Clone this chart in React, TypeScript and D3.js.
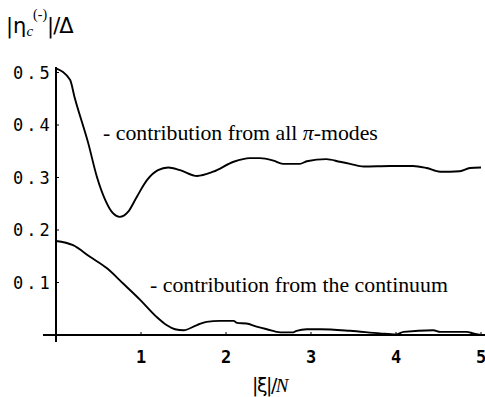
import React from "react";
import * as d3 from "d3";

// contribution from all pi-modes
const piX = [0, 0.165, 0.22, 0.38, 0.48, 0.58, 0.67, 0.75, 0.85, 0.95, 1.07, 1.2, 1.32, 1.46, 1.66, 1.85, 2.09, 2.28, 2.4, 2.56, 2.67, 2.87, 2.95, 3.18, 3.34, 3.46, 3.62, 3.93, 4.2, 4.36, 4.52, 4.75, 4.87, 5.0];
const piY = [0.508, 0.486, 0.452, 0.365, 0.302, 0.257, 0.232, 0.225, 0.235, 0.263, 0.295, 0.314, 0.319, 0.314, 0.303, 0.311, 0.33, 0.337, 0.337, 0.332, 0.326, 0.326, 0.331, 0.335, 0.33, 0.326, 0.321, 0.322, 0.322, 0.318, 0.311, 0.312, 0.318, 0.319];

// contribution from the continuum
const cX = [0, 0.2, 0.4, 0.6, 0.79, 0.99, 1.18, 1.3, 1.4, 1.5, 1.66, 1.77, 1.93, 2.09, 2.13, 2.24, 2.36, 2.48, 2.64, 2.79, 2.83, 2.95, 3.11, 3.46, 3.81, 4.0, 4.09, 4.44, 4.52, 4.83, 4.91, 5.0];
const cY = [0.179, 0.171, 0.149, 0.127, 0.098, 0.067, 0.035, 0.019, 0.011, 0.009, 0.019, 0.025, 0.027, 0.027, 0.023, 0.022, 0.016, 0.011, 0.005, 0.005, 0.008, 0.011, 0.011, 0.008, 0.003, 0.001, 0.006, 0.009, 0.006, 0.006, 0.003, 0.0];

const xTicks = [1, 2, 3, 4, 5];
const yTicks = [0.1, 0.2, 0.3, 0.4, 0.5];

const W = 485;
const H = 397;

export default function App() {
  const x = d3.scaleLinear().domain([0, 5]).range([56, 481]);
  const y = d3.scaleLinear().domain([0, 0.5]).range([335, 72.5]);

  const line = d3
    .line<[number, number]>()
    .x(d => x(d[0]))
    .y(d => y(d[1]))
    .curve(d3.curveMonotoneX);

  const piPts = piX.map((v, i) => [v, piY[i]] as [number, number]);
  const cPts = cX.map((v, i) => [v, cY[i]] as [number, number]);

  const mono = "'DejaVu Sans Mono', monospace";
  const serif = "'Liberation Serif', 'Times New Roman', serif";
  const sans = "'DejaVu Sans', sans-serif";

  return (
    <svg
      width={W}
      height={H}
      style={{ position: "absolute", left: 0, top: 0, background: "#fff" }}
    >
      {/* title */}
      <text x={6} y={33} fontFamily={sans} fontSize={21} fill="#000">
        |η
        <tspan fontFamily={serif} fontStyle="italic" fontSize={15} dy={3}>c</tspan>
        <tspan fontFamily={serif} fontSize={14} dy={-17}>(-)</tspan>
        <tspan dy={14} letterSpacing={-1}>|/Δ</tspan>
      </text>

      {/* axes */}
      <line x1={x(0)} x2={x(0)} y1={67} y2={342} stroke="#000" strokeWidth={2} />
      <line x1={43} x2={W} y1={y(0)} y2={y(0)} stroke="#000" strokeWidth={2} />

      {xTicks.map(t => (
        <g key={"xt" + t}>
          <line x1={x(t)} x2={x(t)} y1={y(0)} y2={y(0) - 3} stroke="#000" strokeWidth={1} />
          <text
            x={x(t)}
            y={363}
            textAnchor="middle"
            fontFamily={mono}
            fontSize={17}
            fontWeight="bold"
            fill="#000"
          >
            {t}
          </text>
        </g>
      ))}

      {yTicks.map(t => (
        <g key={"yt" + t}>
          <line x1={x(0)} x2={x(0) + 3} y1={y(t)} y2={y(t)} stroke="#000" strokeWidth={1} />
          <text
            x={13}
            y={y(t) + 6}
            fontFamily={mono}
            fontSize={17}
            letterSpacing={3}
            fill="#000"
          >
            {t.toFixed(1)}
          </text>
        </g>
      ))}

      {/* curves */}
      <path d={line(piPts) || ""} fill="none" stroke="#000" strokeWidth={1.9} />
      <path d={line(cPts) || ""} fill="none" stroke="#000" strokeWidth={1.9} />

      {/* annotations */}
      <text x={103} y={140} fontFamily={serif} fontSize={21.8} fill="#000">
        - contribution from all <tspan fontStyle="italic">π</tspan>-modes
      </text>
      <text x={150} y={292} fontFamily={serif} fontSize={21.8} fill="#000">
        - contribution from the continuum
      </text>

      {/* x label */}
      <text x={252} y={392} fontFamily={sans} fontSize={19} letterSpacing={-1.5} fill="#000">
        |ξ|/<tspan fontFamily={serif} fontStyle="italic">N</tspan>
      </text>
    </svg>
  );
}
